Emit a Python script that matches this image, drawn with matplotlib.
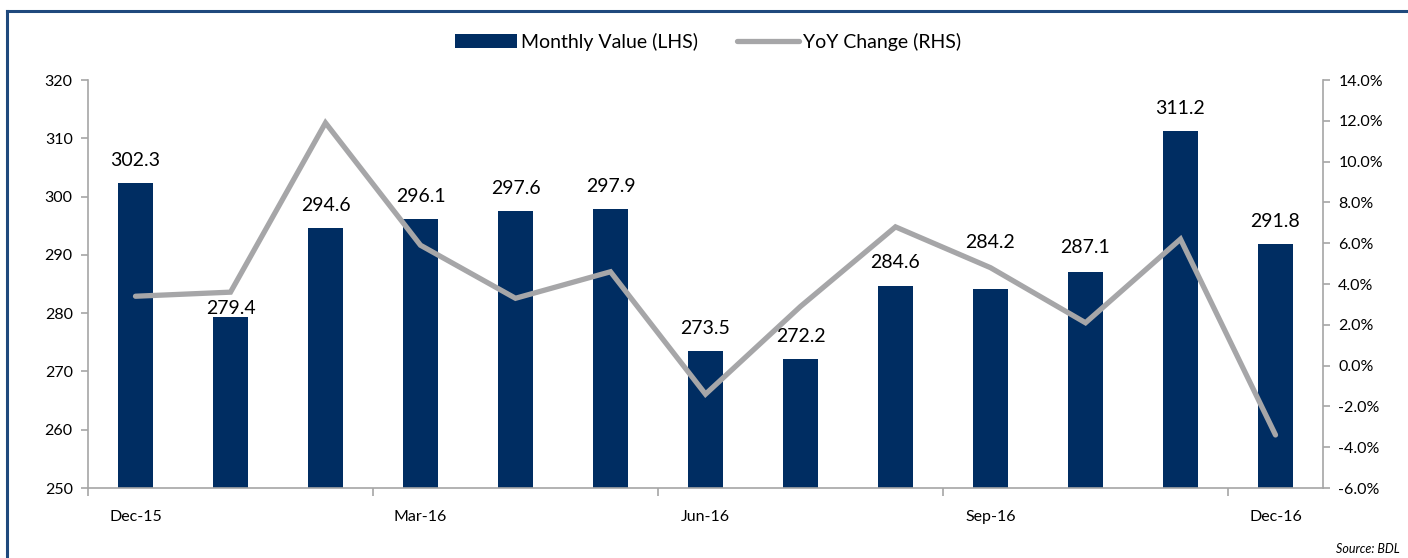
import matplotlib
matplotlib.use("Agg")
import matplotlib.pyplot as plt
from matplotlib.ticker import FuncFormatter, FixedLocator
from matplotlib.lines import Line2D

months = ["Dec-15", "Jan-16", "Feb-16", "Mar-16", "Apr-16", "May-16", "Jun-16",
          "Jul-16", "Aug-16", "Sep-16", "Oct-16", "Nov-16", "Dec-16"]
monthly_value = [302.3, 279.4, 294.6, 296.1, 297.6, 297.9, 273.5,
                 272.2, 284.6, 284.2, 287.1, 311.2, 291.8]
yoy_change = [3.4, 3.6, 11.9, 5.9, 3.3, 4.6, -1.4,
              2.9, 6.8, 4.8, 2.1, 6.2, -3.4]
shown_labels = ["Dec-15", "Mar-16", "Jun-16", "Sep-16", "Dec-16"]
# label vertical offsets (points) – styling only
label_offsets = [10, 0, 10, 10, 10, 10, 10, 10, 11, 27, 11, 10, 10]

plt.rcParams['font.family'] = ['Lato', 'DejaVu Sans']

BAR = "#002D62"
LINE = "#A6A6A8"
AXC = "#A6A6A6"
FRAME = "#1F497D"

fig = plt.figure(figsize=(14.08, 5.58), dpi=100)
ax = fig.add_axes([88/1408, 1-488/558, (1323-88)/1408, (488-80)/558])
x = list(range(len(months)))
ax.bar(x, monthly_value, width=0.37, color=BAR, zorder=2,
       label="Monthly Value (LHS)")
ax.set_ylim(250, 320)
ax.set_xlim(-0.5, len(months) - 0.5)
ax.set_yticks(range(250, 321, 10))

ax2 = ax.twinx()
ax2.plot(x, yoy_change, color=LINE, lw=3.8, solid_capstyle="round",
         solid_joinstyle="miter", label="YoY Change (RHS)", zorder=2)
ax2.set_ylim(-6, 14)
ax2.set_yticks(range(-6, 15, 2))
ax2.yaxis.set_major_formatter(FuncFormatter(lambda v, p: f"{v:.1f}%"))

for xi, v, off in zip(x, monthly_value, label_offsets):
    ax2.annotate(f"{v:.1f}", (xi, v), xycoords=ax.transData,
                 xytext=(0, off), textcoords="offset points",
                 ha="center", va="bottom", fontsize=14, color="black", zorder=5)

for a in (ax, ax2):
    a.spines["top"].set_visible(False)
    for s in ("left", "right", "bottom"):
        a.spines[s].set_color(AXC)
        a.spines[s].set_linewidth(1.2)
    a.tick_params(axis="y", colors=AXC, length=5, width=1.2, labelsize=11.5,
                  labelcolor="black", pad=6)

ax.spines["right"].set_visible(False)
ax2.spines["left"].set_visible(False)
ax2.spines["bottom"].set_visible(False)

lab_pos = [months.index(m) for m in shown_labels]
ax.set_xticks(lab_pos)
ax.set_xticklabels(shown_labels)
ax.tick_params(axis="x", length=0, labelsize=11.5, pad=16)
ax.xaxis.set_minor_locator(FixedLocator([-0.5, 2.5, 5.5, 8.5, 11.5]))
ax.tick_params(axis="x", which="minor", length=6, width=1.2, color=AXC, direction="out")

h1, l1 = ax.get_legend_handles_labels()
h2, l2 = ax2.get_legend_handles_labels()
fig.legend(h1 + h2, l1 + l2, loc="center", bbox_to_anchor=(708/1408, 1-42/558),
           ncol=2, frameon=False, fontsize=14, handlelength=3.2,
           handletextpad=0.2, columnspacing=2.0)

fig.text(1400/1408, 1-549/558, "Source: BDL", ha="right", va="center",
         fontsize=9, style="italic")

# frame: left and top edges only (as in the reference crop)
fx, fy = 6.5/1408, 1 - 10.5/558
fig.add_artist(Line2D([fx, fx], [0, fy], transform=fig.transFigure,
                      color=FRAME, lw=2.2, solid_capstyle="projecting"))
fig.add_artist(Line2D([fx, 1], [fy, fy], transform=fig.transFigure,
                      color=FRAME, lw=2.2, solid_capstyle="projecting"))

fig.savefig("out.png", dpi=100)
